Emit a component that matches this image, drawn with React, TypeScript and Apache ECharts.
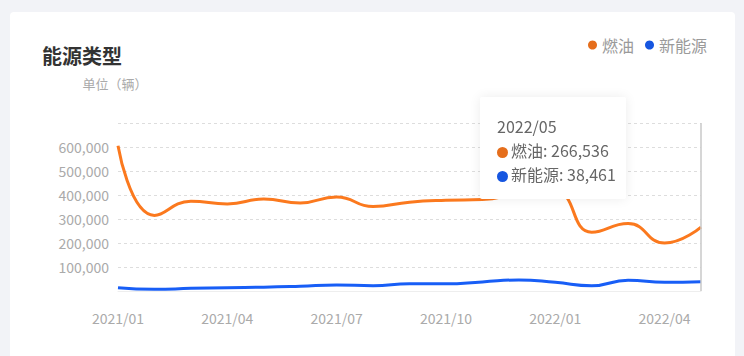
import React, { useEffect, useRef } from "react";
import * as echarts from "echarts";

const months = [
  "2021/01", "2021/02", "2021/03", "2021/04", "2021/05", "2021/06",
  "2021/07", "2021/08", "2021/09", "2021/10", "2021/11", "2021/12",
  "2022/01", "2022/02", "2022/03", "2022/04", "2022/05",
];
const fuelValues = [
  605000, 315000, 374000, 363000, 383000, 367000, 392000, 352000, 370000,
  378000, 381000, 405000, 415000, 245000, 281000, 200000, 266536,
];
const nevValues = [
  14000, 7000, 11000, 14000, 16000, 20000, 25000, 22000, 30000, 30000,
  38000, 46000, 36000, 22000, 45000, 36000, 38461,
];
const seriesNames = ["燃油", "新能源"];
const seriesColors = ["#E56E1C", "#1656E0"];
const titleText = "能源类型";
const unitText = "单位（辆）";

const FONT = '"Noto Sans CJK SC", "Noto Sans", sans-serif';

export default function App() {
  const ref = useRef<HTMLDivElement>(null);
  useEffect(() => {
    if (!ref.current) return;
    const chart = echarts.init(ref.current, undefined, { renderer: "svg" });
    chart.setOption({
      animation: false,
      textStyle: { fontFamily: FONT },
      title: {
        text: titleText,
        left: 42,
        top: 45,
        padding: 0,
        textStyle: { fontSize: 20, fontWeight: "bold", color: "#333", fontFamily: FONT },
      },
      legend: {
        data: seriesNames,
        right: 37,
        top: 37,
        padding: 0,
        icon: "circle",
        itemWidth: 9,
        itemHeight: 9,
        itemGap: 11,
        textStyle: { fontSize: 16, color: "#9a9a9a", fontFamily: FONT },
      },
      tooltip: {
        trigger: "axis",
        alwaysShowContent: true,
        position: [480, 97],
        backgroundColor: "#fff",
        borderWidth: 0,
        borderColor: "#fff",
        padding: [17, 10, 13, 17],
        extraCssText: "box-shadow: 0 0 12px rgba(0,0,0,0.08); border-radius: 2px;",
        textStyle: { fontSize: 16, color: "#666", fontFamily: FONT },
        axisPointer: { type: "line", lineStyle: { color: "#c8c8c8", width: 1.5, type: "solid" } },
        formatter: (params: any) => {
          const list = Array.isArray(params) ? params : [params];
          let html = `<div style="line-height:24px;font-family:${FONT.replace(/"/g, "'")};color:#666;font-size:16px">${list[0].axisValue}`;
          list.forEach((p: any) => {
            html += `<br/><span style="display:inline-block;width:11px;height:11px;border-radius:50%;background:${p.color};margin-right:3px;vertical-align:-1px"></span>${p.seriesName}: ${Number(p.value).toLocaleString("en-US")}`;
          });
          return html + "</div>";
        },
      },
      grid: { left: 118, right: 43, top: 123, bottom: 65 },
      xAxis: {
        type: "category",
        data: months,
        boundaryGap: false,
        axisTick: { show: false },
        axisLine: { lineStyle: { color: "#eeeeee" } },
        axisLabel: { interval: 2, color: "#aaa", fontSize: 14, margin: 20, fontFamily: FONT },
      },
      yAxis: {
        type: "value",
        min: 0,
        max: 700000,
        interval: 100000,
        name: unitText,
        nameLocation: "end",
        nameGap: 33,
        nameTextStyle: { color: "#aaa", fontSize: 13, fontFamily: FONT, align: "center", padding: [0, 0, 0, -6] },
        axisLine: { show: false },
        axisTick: { show: false },
        splitLine: { lineStyle: { color: "#dddddd", type: [3, 3] } },
        axisLabel: {
          color: "#aaa",
          fontSize: 14,
          margin: 9,
          fontFamily: FONT,
          formatter: (v: number) => (v === 0 || v === 700000 ? "" : v.toLocaleString("en-US")),
        },
      },
      series: [
        {
          name: seriesNames[0],
          type: "line",
          data: fuelValues,
          smooth: true,
          symbol: "none",
          color: seriesColors[0],
          lineStyle: { width: 3, color: seriesColors[0] },
        },
        {
          name: seriesNames[1],
          type: "line",
          data: nevValues,
          smooth: true,
          symbol: "none",
          color: seriesColors[1],
          lineStyle: { width: 3, color: seriesColors[1] },
        },
      ],
    });
    chart.dispatchAction({ type: "showTip", seriesIndex: 0, dataIndex: 16 });
    return () => chart.dispose();
  }, []);

  return (
    <div style={{ position: "fixed", left: 0, top: 0, width: 744, height: 356, background: "#f2f3f7", overflow: "hidden" }}>
      <div style={{ position: "absolute", left: 10, top: 12, width: 725, height: 360, background: "#fff", borderRadius: 4 }} />
      <div ref={ref} style={{ position: "absolute", left: 0, top: 0, width: 744, height: 356 }} />
    </div>
  );
}
